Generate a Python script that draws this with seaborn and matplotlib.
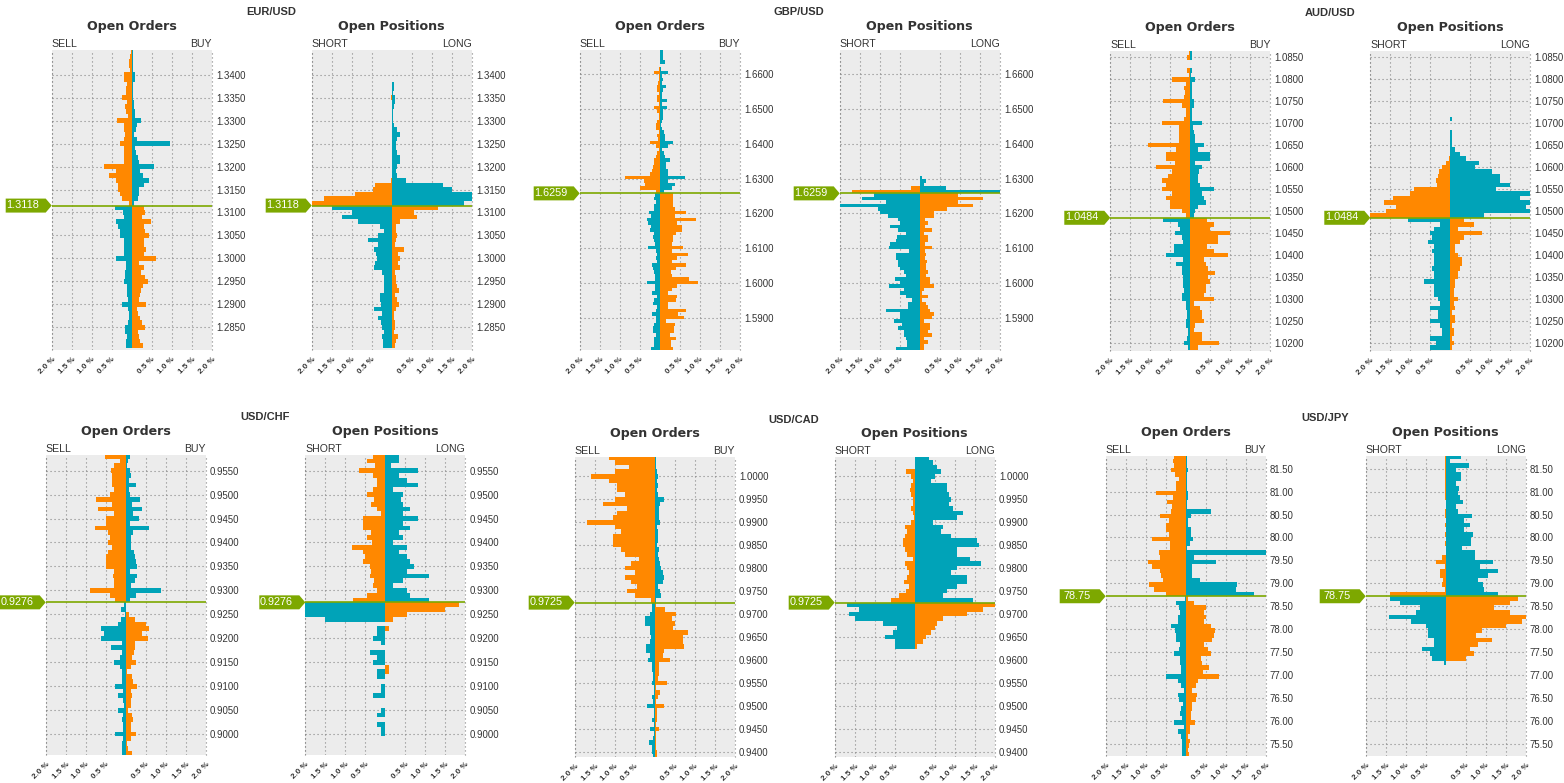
import numpy as np
import pandas as pd
import matplotlib
matplotlib.use("Agg")
import matplotlib.pyplot as plt
from matplotlib.patches import Polygon
from matplotlib.transforms import ScaledTranslation
import seaborn as sns

# ---------------- DATA (percent, top row to bottom row) ----------------

pairs = ["EUR/USD", "GBP/USD", "AUD/USD", "USD/CHF", "USD/CAD", "USD/JPY"]
price_labels = ["1.3118", "1.6259", "1.0484", "0.9276", "0.9725", "78.75"]
price_lines = [1.3115, 1.62575, 1.0485, 0.9275, 0.9725, 78.72]
top_levels = [1.3450, 1.6663, 1.0860, 0.9580, 1.0040, 81.77]
level_steps = [0.001, 0.001, 0.001, 0.001, 0.001, 0.1]

eur_ticks = [1.34, 1.335, 1.33, 1.325, 1.32, 1.315, 1.31, 1.305, 1.30, 1.295, 1.29, 1.285]
gbp_ticks = [1.66, 1.65, 1.64, 1.63, 1.62, 1.61, 1.60, 1.59]
aud_ticks = [1.085, 1.08, 1.075, 1.07, 1.065, 1.06, 1.055, 1.05, 1.045, 1.04, 1.035, 1.03, 1.025, 1.02]
chf_ticks = [0.955, 0.95, 0.945, 0.94, 0.935, 0.93, 0.925, 0.92, 0.915, 0.91, 0.905, 0.90]
cad_ticks = [1.0, 0.995, 0.99, 0.985, 0.98, 0.975, 0.97, 0.965, 0.96, 0.955, 0.95, 0.945, 0.94]
jpy_ticks = [81.5, 81.0, 80.5, 80.0, 79.5, 79.0, 78.5, 78.0, 77.5, 77.0, 76.5, 76.0, 75.5]

eur_orders_left = [.02,.04,.06,.06,.05,.2,.2,.12,.14,.15,.24,.12,.16,.14,.1,.36,.18,.2,.16,.18,.28,.2,.18,.2,.18,.68,.4,.56,.4,.35,.33,.29,.25,.08,
    .42,.22,.2,.39,.35,.28,.3,.2,.18,.2,.18,.38,.14,.14,.16,.16,.18,.12,.12,.12,.1,.24,.1,.08,.08,.1,.16,.16,.12,.14,.15]
eur_orders_right = [.02,.04,.03,.03,.04,.08,.07,.04,.04,.04,.04,.05,.06,.08,.08,.22,.12,.1,.06,.14,.95,.08,.1,.15,.18,.55,.2,.28,.42,.3,.18,.18,.15,.06,
    .3,.33,.25,.48,.3,.33,.42,.3,.3,.35,.3,.6,.18,.3,.22,.32,.4,.28,.22,.2,.18,.36,.12,.15,.2,.25,.32,.15,.18,.2,.28]
eur_positions_left = [0,0,0,0,0,0,0,0,0,0,.03,0,0,0,0,0,0,0,0,0,0,0,0,0,0,0,0,0,.03,.42,.48,.92,1.7,2.0,
    1.5,1.0,1.25,.85,.3,.2,.35,.6,.35,.45,.4,.38,.42,.45,.25,.2,.2,.2,.2,.3,.3,.28,.45,.25,.35,.28,.25,.2,.25,.22,.22]
eur_positions_right = [0,0,0,0,0,0,0,.06,.05,.04,.08,.08,.06,.04,.04,.04,.06,.14,.2,.14,.1,.1,.12,.2,.2,.12,.1,.12,.35,1.28,1.5,2.0,2.0,1.8,
    1.15,.55,.62,.2,.1,.1,.12,.1,.08,.3,.15,.2,.15,.2,.08,.1,.1,.12,.18,.08,.12,.18,.1,.06,.05,.08,.08,.06,.15,.1,.08]

gbp_orders_left = [0,0,0,0,0,.02,.14,.03,.03,.05,.06,.06,.03,.06,.07,.02,.14,.06,.02,.02,.08,.09,.09,.02,.08,.04,.24,.1,.02,.08,.1,.14,.14,.18,.2,.25,.87,.4,.37,.5,.1,
    .12,.14,.1,.14,.14,.26,.22,.33,.3,.22,.24,.15,.18,.14,.12,.3,.1,.08,.1,.08,.2,.16,.14,.12,.12,.32,.12,.12,.2,.06,.14,.18,.06,.1,.2,.1,.1,.14,.16,.16,.1,.14,.14,.14,.22]
gbp_orders_right = [.07,.07,.07,.14,0,.04,.2,.06,.08,.06,.15,.08,.05,.06,.18,.06,.18,.08,.08,.08,.06,.04,.05,.1,.14,.14,.32,.2,.06,.1,.14,.25,.16,.16,.2,.2,.63,.2,.38,.3,.1,
    .33,.33,.32,.33,.38,.65,.38,.9,.42,.56,.55,.4,.32,.32,.3,.58,.3,.7,.42,.3,.65,.4,.28,.3,.72,.95,.42,.3,.2,.42,.4,.2,.2,.65,.45,.6,.15,.38,.36,.36,.25,.4,.28,.28,.33]
gbp_positions_left = [0,0,0,0,0,0,0,0,0,0,0,0,0,0,0,0,0,0,0,0,0,0,0,0,0,0,0,0,0,0,0,0,0,0,0,0,0,0,0,.22,1.7,
    1.15,1.45,.85,2.0,1.05,1.0,.8,.55,.5,.75,.55,.35,.58,.6,.75,.78,.28,.6,.6,.55,.55,.5,.4,.35,.62,.5,.78,.4,.5,.35,.2,.3,.3,.85,.5,.5,.65,.45,.55,.4,.4,.35,.32,.32,.6]
gbp_positions_right = [0,0,0,0,0,0,0,0,0,0,0,0,0,0,0,0,0,0,0,0,0,0,0,0,0,0,0,0,0,0,0,0,0,0,0,0,.06,.15,.1,.65,2.0,
    .95,1.58,.95,1.34,.68,.36,.36,.12,.2,.12,.3,.1,.2,.2,.12,.3,.12,.15,.12,.18,.15,.15,.2,.15,.25,.25,.35,.1,.05,.2,.05,.15,.2,.25,.35,.3,.1,.25,.25,.2,.3,.1,.2,.1,.1]

aud_orders_left = [.04,.08,0,0,.08,.04,.45,.1,.16,.14,.16,.68,.22,.1,.1,.15,.72,.28,.28,.28,.28,1.05,.35,.62,.6,.38,.85,.45,.55,.72,.62,.72,.45,.6,.5,.5,.2,.1,
    .68,.3,.25,.38,.2,.18,.42,.42,.6,.18,.35,.2,.22,.18,.18,.18,.15,.2,.22,.1,.1,.08,.08,.1,.1,.05,.05,.08,.15,.05]
aud_orders_right = [.03,.04,0,0,.03,.02,.12,.05,.05,.05,.03,.08,.08,.03,.03,.03,.3,.06,.1,.12,.12,.35,.2,.5,.48,.12,.3,.22,.2,.18,.25,.58,.3,.35,.38,.2,.12,.1,
    .42,.6,.48,1.0,.68,.68,.42,.6,.93,.35,.4,.45,.62,.45,.48,.38,.38,.35,.6,.1,.25,.3,.3,.35,.12,.1,.3,.3,.72,.18]
aud_positions_left = [0,0,0,0,0,0,0,0,0,0,0,0,0,0,0,0,0,0,0,0,0,0,0,0,.03,.1,.2,.28,.3,.35,.33,.92,1.0,1.44,1.65,1.35,1.6,2.0,
    1.05,.25,.4,.5,.45,.55,.4,.45,.42,.42,.4,.45,.4,.42,.65,.42,.4,.4,.3,.25,.5,.3,.3,.5,.25,.2,.2,.5,.35,.5]
aud_positions_right = [0,0,0,0,0,0,0,0,0,0,0,0,0,0,0,.04,0,0,.03,.03,.03,.03,.12,.25,.4,.72,.62,1.05,1.25,1.25,1.5,1.15,2.0,1.75,2.0,1.9,2.0,.85,
    .35,.58,.2,.78,.35,.25,.12,.12,.2,.3,.28,.25,.18,.18,.12,.12,.1,.08,.18,.08,.12,.04,.12,.12,.05,.08,.08,.05,.1,.05]

chf_orders_left = [.52,.15,.3,.38,.35,.35,.35,.3,.4,.75,.35,.7,.3,.5,.5,.78,.45,.4,.45,.35,.45,.5,.5,.5,.3,.33,.3,.3,.9,.4,.28,
    .04,.12,.02,.12,.2,.62,.55,.62,.1,.38,.1,.14,.3,.14,.1,.1,.1,.27,.08,.2,.06,.05,.2,.08,.1,.08,.08,.27,.08,.1,.1,.1]
chf_orders_right = [.1,.05,.04,.1,.12,.08,.25,.08,.1,.35,.15,.4,.18,.33,.1,.58,.18,.12,.12,.12,.2,.22,.25,.27,.1,.27,.22,.12,.88,.25,.1,
    0,0,.08,.22,.5,.58,.4,.55,.22,.22,.2,.15,.25,.12,.03,.15,.18,.27,.12,.15,.12,.12,.05,.15,.18,.14,.12,.25,.12,.03,.05,.15]
chf_positions_left = [.3,.47,.25,.65,.3,.2,.2,.3,.45,.28,.35,.22,.1,.57,.57,.57,.37,.47,.33,.83,.57,.5,.57,.38,.35,.38,.28,.3,.2,.45,.82,
    2.0,2.0,2.0,1.5,0,.2,.2,.3,.1,0,.38,.2,.3,0,.2,.2,0,.1,.1,.3,0,0,.1,.2,0,.2,.1,.1,0,0,0,0]
chf_positions_right = [.35,.33,.15,.82,.35,.55,.82,.18,.45,.4,.45,.62,.45,.82,.45,.62,.35,.45,.2,.55,.35,.55,.62,.72,.55,1.1,.45,.2,.55,.62,1.1,
    1.85,1.5,.55,.18,0,.08,0,0,0,0,0,0,0,.08,.08,0,0,0,0,0,0,0,0,0,0,0,0,0,0,0,0,0]

cad_orders_left = [1.15,1.0,.65,1.0,1.6,1.15,.95,.95,.75,1.0,1.3,.7,.95,1.05,1.7,1.0,.85,1.05,1.05,1.05,.85,.75,.4,.6,.75,.5,.75,.6,.45,.7,.5,.1,
    .08,.08,.12,.25,.25,.12,.12,.1,.12,.22,.22,.12,.18,.08,.08,.05,.05,.08,.02,.03,.06,.05,.2,.03,.03,.08,.03,.12,.03,.05,.15,.06,.06,.05]
cad_orders_right = [.02,.02,.02,.05,.08,.05,.08,.06,.08,.22,.12,.1,.1,.1,.12,.06,.08,.08,.08,.05,.1,.08,.1,.12,.15,.2,.22,.2,.08,.12,.15,.02,
    .02,.25,.52,.42,.5,.45,.82,.7,.7,.72,.22,.2,.38,.1,.1,.1,.08,.3,.03,.12,.08,.03,.22,.05,.05,.05,.03,.1,.03,.02,.02,.02,.05,.05]
cad_positions_left = [0,0,0,.22,.1,.05,.1,.12,.1,.05,.05,.1,.05,.02,.1,.25,.2,.25,.3,.3,.25,.2,.05,.25,.2,.15,.2,.28,.15,.22,.4,.6,
    1.7,1.4,1.65,1.5,.8,.45,.55,.75,.5,.5,0,0,0,0,0,0,0,0,0,0,0,0,0,0,0,0,0,0,0,0,0,0,0,0]
cad_positions_right = [.35,.45,.55,.65,.5,.4,.8,.8,.85,.9,.85,.95,1.2,1.05,.45,.7,.65,.9,1.55,1.6,1.05,1.05,1.38,1.65,1.05,.9,1.3,1.3,1.05,.8,.7,1.45,
    2.0,1.7,1.3,.7,.55,.5,.4,.28,.2,.05,0,0,0,0,0,0,0,0,0,0,0,0,0,0,0,0,0,0,0,0,0,0,0,0]

jpy_orders_left = [.3,.33,.3,.37,.27,.18,.25,.25,.75,.33,.47,.35,.38,.65,.42,.5,.5,.42,.85,.4,.4,.68,.65,.95,.85,.65,.62,.58,.92,.8,.5,
    .03,.25,.18,.15,.2,.2,.38,.28,.25,.25,.15,.18,.3,.15,.15,.12,.12,.5,.2,.12,.05,.2,.18,.08,.12,.15,.1,.3,.05,.2,.12,.1,.1,.1,.1]
jpy_orders_right = [.02,.02,.03,.05,.04,.03,.03,.03,.05,.05,.04,.03,.62,.12,.05,.05,.12,.12,.18,.1,.03,2.0,.2,.75,.15,.15,.15,.35,1.27,1.25,1.7,
    .05,.2,.5,.45,.5,.45,.62,.72,.7,.65,.45,.55,.62,.38,.4,.58,.42,.82,.3,.25,.15,.28,.25,.15,.15,.12,.12,.22,.1,.1,.05,.1,.08,.06,.08]
jpy_positions_left = [.02,.02,.02,.02,.02,.02,.02,.02,.02,.02,0,0,.02,.02,0,.02,0,.02,0,.02,0,0,.1,.25,.03,.15,.15,.08,.1,.03,1.4,
    1.4,1.15,.65,.75,1.42,.88,.5,.45,.45,.3,.3,.6,.4,.35,.04,0,0,0,0,0,0,0,0,0,0,0,0,0,0,0,0,0,0,0,0]
jpy_positions_right = [.38,.1,.58,.25,.38,.38,.25,.33,.3,.35,.42,.25,.3,.65,.45,.6,.45,.67,.62,.62,.4,.72,.72,1.18,.85,1.3,1.05,.8,.92,.95,1.3,
    1.8,1.6,1.2,1.6,2.0,1.9,1.5,.9,.75,1.15,.8,.6,.7,.5,0,0,0,0,0,0,0,0,0,0,0,0,0,0,0,0,0,0,0,0,0]

orders_left = [eur_orders_left, gbp_orders_left, aud_orders_left, chf_orders_left, cad_orders_left, jpy_orders_left]
orders_right = [eur_orders_right, gbp_orders_right, aud_orders_right, chf_orders_right, cad_orders_right, jpy_orders_right]
positions_left = [eur_positions_left, gbp_positions_left, aud_positions_left, chf_positions_left, cad_positions_left, jpy_positions_left]
positions_right = [eur_positions_right, gbp_positions_right, aud_positions_right, chf_positions_right, cad_positions_right, jpy_positions_right]
all_ticks = [eur_ticks, gbp_ticks, aud_ticks, chf_ticks, cad_ticks, jpy_ticks]

# ---------------- LAYOUT (pixels in the saved image) ----------------

W, H = 1564, 783
PANEL_W, PANEL_H = 160, 300
orders_x = [51.7, 579.7, 1110.3, 45.7, 574.7, 1105.7]
positions_x = [311.7, 839.7, 1370.3, 305.3, 834.7, 1365.7]
panel_y = [50, 50, 51, 455, 457.3, 456]
y_limits = [(1.28007, 1.34536), (1.58095, 1.66676), (1.0182, 1.08644),
            (0.89563, 0.95826), (0.93884, 1.00413), (75.24, 81.775)]
pair_label_xy = [(271, 12), (799, 12), (1330, 13), (265, 417), (794, 420), (1325, 418)]

ORANGE = "#FF8800"
TEAL = "#00A3B8"
PANEL_BG = "#ECECEC"
PRICE_GREEN = "#7DA800"
TEXT_DARK = "#333333"
GRID_GRAY = "#858585"
GRID_DASH = (0, (1, 2.6))

sns.set_theme(style="white", rc={"axes.facecolor": PANEL_BG})
plt.rcParams["font.family"] = ["Liberation Sans", "DejaVu Sans"]

fig = plt.figure(figsize=(W / 100, H / 100), dpi=100, facecolor="white")


def px_shift(dx, dy):
    return ScaledTranslation(dx / 100, dy / 100, fig.dpi_scale_trans)


def build_frame(levels, left, right, line):
    # sign the left side, colours swap at the current price
    above = levels > line
    return pd.DataFrame({
        "level": np.concatenate([levels, levels]),
        "pct": np.concatenate([-np.array(left, dtype=float), np.array(right, dtype=float)]),
        "kind": np.concatenate([np.where(above, "orange", "teal"), np.where(above, "teal", "orange")]),
    })


def draw_panel(i, x0, left, right, title, left_word, right_word):
    y0 = panel_y[i]
    ax = fig.add_axes([x0 / W, 1 - (y0 + PANEL_H) / H, PANEL_W / W, PANEL_H / H])
    levels = np.round(top_levels[i] - level_steps[i] * np.arange(len(left)), 4)
    df = build_frame(levels, left, right, price_lines[i])
    sns.barplot(data=df, x="pct", y="level", hue="kind", orient="h", native_scale=True,
                palette={"orange": ORANGE, "teal": TEAL}, hue_order=["orange", "teal"],
                dodge=False, width=1, saturation=1, errorbar=None, legend=False,
                linewidth=0, ax=ax)

    ymin, ymax = y_limits[i]
    ax.set_xlim(-2, 2)
    ax.set_ylim(ymin, ymax)
    ax.set_xlabel("")
    ax.set_ylabel("")
    for s in ax.spines.values():
        s.set_visible(False)

    xticks = [-2, -1.5, -1, -0.5, 0.5, 1, 1.5, 2]
    ax.set_xticks(xticks)
    ax.set_xticklabels([f"{abs(t):.1f} %" for t in xticks], rotation=45, ha="right",
                       va="top", rotation_mode="anchor", fontsize=5.8, fontweight="bold",
                       color=TEXT_DARK)
    for lab in ax.get_xticklabels():
        lab.set_transform(lab.get_transform() + px_shift(3, 3))
    fmt = "{:.2f}" if pairs[i] == "USD/JPY" else "{:.4f}"
    ax.yaxis.tick_right()
    ax.set_yticks(all_ticks[i])
    ax.set_yticklabels([fmt.format(t) for t in all_ticks[i]], fontsize=6.9, color=TEXT_DARK)
    for lab in ax.get_yticklabels():
        lab.set_transform(lab.get_transform() + px_shift(0, 1.5))
    ax.tick_params(axis="y", length=0, pad=3)
    ax.tick_params(axis="x", length=0, pad=4)
    ax.set_axisbelow(True)
    ax.grid(True, color=GRID_GRAY, linestyle=GRID_DASH, linewidth=0.8)
    for xv in [-2, 2]:
        ax.axvline(xv, color=GRID_GRAY, linestyle=GRID_DASH, linewidth=0.8, clip_on=False, zorder=0.5)

    # headers above the panel
    cx = x0 + PANEL_W / 2
    fig.text(cx / W, 1 - (y0 - 23.5) / H, title, ha="center", va="center", fontsize=9.1,
             fontweight="bold", family="DejaVu Sans", color=TEXT_DARK)
    fig.text(x0 / W, 1 - (y0 - 6) / H, left_word, ha="left", va="center", fontsize=7.6, color=TEXT_DARK)
    fig.text((x0 + PANEL_W) / W, 1 - (y0 - 6) / H, right_word, ha="right", va="center", fontsize=7.6, color=TEXT_DARK)

    # current price line and tag
    line = price_lines[i]
    ax.axhline(line, color=PRICE_GREEN, linewidth=1.2, zorder=5)
    yp = y0 + (ymax - line) / (ymax - ymin) * PANEL_H
    pts = [(x0 - 46, yp - 7), (x0 - 6, yp - 7), (x0, yp), (x0 - 6, yp + 7), (x0 - 46, yp + 7)]
    fig.add_artist(Polygon([(px / W, 1 - py / H) for px, py in pts], closed=True, facecolor=PRICE_GREEN,
                           edgecolor="none", transform=fig.transFigure, zorder=6))
    fig.text((x0 - 29) / W, 1 - (yp - 0.5) / H, price_labels[i], ha="center", va="center", fontsize=7.8,
             color="white", zorder=7)


for i, pair in enumerate(pairs):
    assert len(orders_left[i]) == len(orders_right[i]) == len(positions_left[i]) == len(positions_right[i]), pair
    draw_panel(i, orders_x[i], orders_left[i], orders_right[i], "Open Orders", "SELL", "BUY")
    draw_panel(i, positions_x[i], positions_left[i], positions_right[i], "Open Positions", "SHORT", "LONG")
    lx, ly = pair_label_xy[i]
    fig.text(lx / W, 1 - ly / H, pair, ha="center", va="center", fontsize=8, fontweight="bold", color=TEXT_DARK)

fig.savefig("out.png", dpi=100)
